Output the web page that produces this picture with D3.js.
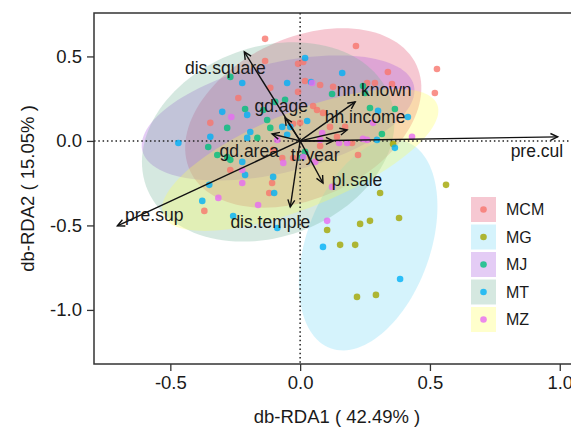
<!DOCTYPE html>
<html>
<head>
<meta charset="utf-8">
<script src="https://cdn.jsdelivr.net/npm/d3@7"></script>
<style>
  body { margin: 0; background: #fff; }
  text { font-family: "Liberation Sans", Arial, sans-serif; fill: #1a1a1a; }
</style>
</head>
<body>
<svg id="chart" width="571" height="429"></svg>
<script>
// groups and colours
const groups = ['MCM', 'MG', 'MJ', 'MT', 'MZ'];
const pointColors = ['#F8766D', '#A3A500', '#00BF7D', '#00B0F6', '#E76BF3'];
const ellipseColors = ['#E14869', '#73D7F5', '#A555DE', '#73B298', '#FFFF55'];

// site scores [rda1, rda2]
const ptsMCM = [[-0.135,0.604],[-0.135,0.473],[-0.008,0.456],[0.012,0.467],[0.019,0.355],[0.077,0.331],
  [-0.115,0.314],[-0.008,0.290],[-0.238,0.254],[-0.346,0.107],[0.215,0.562],[0.527,0.426],[0.519,0.284],
  [0.338,0.408],[0.258,0.343],[0.288,0.343],[0.354,0.337],[0.127,0.320],[0.000,0.107],[-0.027,0.101],
  [0.065,0.183],[0.088,0.166],[0.050,0.207],[0.115,0.083],[0.173,0.083],[0.142,0.024],[0.200,-0.012],
  [0.223,-0.083],[0.077,-0.030],[-0.104,-0.053],[-0.027,-0.101],[-0.069,-0.101],[-0.269,-0.172],
  [-0.108,-0.249],[-0.119,-0.308],[-0.369,-0.414]];
const ptsMG = [[0.562,-0.260],[0.308,-0.308],[0.104,-0.527],[0.231,-0.491],[0.269,-0.473],[0.381,-0.456],
  [0.154,-0.615],[0.212,-0.615],[0.219,-0.923],[0.292,-0.911],[0.358,-0.018]];
const ptsMJ = [[-0.269,0.379],[-0.212,0.189],[-0.281,0.077],[-0.142,0.183],[-0.127,0.124],[-0.096,0.231],
  [-0.058,0.243],[-0.115,0.077],[-0.165,0.018],[-0.354,-0.036],[-0.319,-0.083],[-0.281,-0.095],
  [-0.269,-0.112],[0.123,0.278],[0.242,0.325],[0.250,0.284],[0.269,0.195],[0.365,0.189],[0.315,0.041],
  [0.008,-0.095],[0.019,-0.065]];
const ptsMT = [[0.019,0.491],[-0.050,0.343],[-0.300,0.172],[-0.469,-0.012],[0.162,0.402],[0.042,0.349],
  [0.088,-0.627],[0.385,-0.817],[-0.223,0.343],[-0.204,0.154],[-0.346,0.024],[-0.069,0.083],[0.027,0.118],
  [-0.038,0.083],[-0.204,0.018],[-0.223,-0.124],[-0.212,-0.201],[-0.104,-0.213],[-0.350,-0.260],
  [-0.100,-0.308],[-0.377,-0.355],[-0.258,-0.444],[-0.088,-0.515],[0.300,0.178],[0.415,0.142],
  [0.296,0.006],[0.365,-0.041],[-0.192,0.053],[-0.050,0.036]];
const ptsMZ = [[0.046,0.343],[-0.265,0.142],[-0.088,0.006],[-0.065,-0.130],[0.012,-0.095],[-0.223,-0.172],
  [-0.223,-0.249],[-0.315,-0.337],[-0.162,-0.379],[0.104,-0.473],[0.123,-0.272],[0.058,-0.124],
  [0.281,0.107],[0.085,0.047],[0.150,-0.012],[0.242,0.012],[0.258,0.006],[0.431,0.024],[0.077,0.006],
  [0.181,-0.012]];
const sitePoints = [ptsMCM, ptsMG, ptsMJ, ptsMT, ptsMZ];

// ellipses: centre and two conjugate semi-axes, in axis units
const ellCentre = [[0.012,0.136],[0.262,-0.615],[-0.085,0.136],[-0.123,-0.006],[0.0,-0.112]];
const ellAxisU = [[0.436,0.313],[0.145,0.612],[0.523,0.193],[0.470,0.263],[0.528,0.328]];
const ellAxisV = [[0.130,-0.429],[0.224,-0.125],[0.049,-0.316],[0.125,-0.528],[0.069,-0.263]];

// environmental vectors
const envNames = ['pre.cul','pre.sup','dis.square','gd.age','gd.area','tr.year','nn.known','hh.income','pl.sale','dis.temple'];
const envTips = [[0.992,0.024],[-0.704,-0.503],[-0.215,0.527],[-0.058,0.136],[-0.108,0.041],[0.127,0.0],
  [0.212,0.231],[0.181,0.065],[0.088,-0.249],[-0.038,-0.391]];
const envLabelPos = [[0.912,-0.060],[-0.562,-0.438],[-0.288,0.432],[-0.073,0.207],[-0.196,-0.059],[0.058,-0.083],
  [0.285,0.302],[0.250,0.140],[0.219,-0.231],[-0.115,-0.479]];

const xTicks = [-0.5, 0.0, 0.5, 1.0];
const yTicks = [0.5, 0.0, -0.5, -1.0];
const xTitle = 'db-RDA1 ( 42.49% )';
const yTitle = 'db-RDA2 ( 15.05% )';

const svg = d3.select('#chart');
const pLeft = 94, pRight = 580, pTop = 13, pBottom = 364;

const x = d3.scaleLinear().domain([-0.794, 1.078]).range([pLeft, pRight]);
const y = d3.scaleLinear().domain([-1.32, 0.757]).range([pBottom, pTop]);

svg.append('clipPath').attr('id', 'clip')
  .append('rect').attr('x', pLeft).attr('y', pTop).attr('width', pRight - pLeft).attr('height', pBottom - pTop);

const plot = svg.append('g').attr('clip-path', 'url(#clip)');

// ellipses
const ts = d3.range(0, 2 * Math.PI + 0.01, Math.PI / 60);
groups.forEach((g, i) => {
  const c = ellCentre[i], u = ellAxisU[i], v = ellAxisV[i];
  const pts = ts.map(t => [
    x(c[0] + Math.cos(t) * u[0] + Math.sin(t) * v[0]),
    y(c[1] + Math.cos(t) * u[1] + Math.sin(t) * v[1])
  ]);
  plot.append('path')
    .attr('d', d3.line()(pts) + 'Z')
    .attr('fill', ellipseColors[i])
    .attr('fill-opacity', 0.3)
    .attr('stroke', 'none');
});

// reference lines through the origin
plot.append('line')
  .attr('x1', pLeft).attr('x2', pRight).attr('y1', y(0)).attr('y2', y(0))
  .attr('stroke', '#222').attr('stroke-width', 1.5).attr('stroke-dasharray', '1.5,2.8');
plot.append('line')
  .attr('x1', x(0)).attr('x2', x(0)).attr('y1', pTop).attr('y2', pBottom)
  .attr('stroke', '#222').attr('stroke-width', 1.5).attr('stroke-dasharray', '1.5,2.8');

// points
groups.forEach((g, i) => {
  plot.append('g').selectAll('circle')
    .data(sitePoints[i])
    .enter().append('circle')
    .attr('cx', d => x(d[0]))
    .attr('cy', d => y(d[1]))
    .attr('r', 3.3)
    .attr('fill', pointColors[i])
    .attr('fill-opacity', 0.8);
});

// arrows
const arrowG = plot.append('g').attr('stroke', '#111').attr('stroke-width', 1.4).attr('fill', 'none');
envTips.forEach(tip => {
  const x0 = x(0), y0 = y(0), x1 = x(tip[0]), y1 = y(tip[1]);
  const ang = Math.atan2(y1 - y0, x1 - x0);
  const hl = 8, ha = 0.45;
  arrowG.append('line').attr('x1', x0).attr('y1', y0).attr('x2', x1).attr('y2', y1);
  arrowG.append('path')
    .attr('d', `M${x1 - hl * Math.cos(ang - ha)},${y1 - hl * Math.sin(ang - ha)}L${x1},${y1}L${x1 - hl * Math.cos(ang + ha)},${y1 - hl * Math.sin(ang + ha)}`);
});

// arrow labels
plot.append('g').selectAll('text')
  .data(envNames)
  .enter().append('text')
  .attr('x', (d, i) => x(envLabelPos[i][0]))
  .attr('y', (d, i) => y(envLabelPos[i][1]))
  .attr('dy', '0.35em')
  .attr('text-anchor', 'middle')
  .style('font-size', '17.5px')
  .text(d => d);

// frame
svg.append('rect')
  .attr('x', pLeft).attr('y', pTop).attr('width', pRight - pLeft).attr('height', pBottom - pTop)
  .attr('fill', 'none').attr('stroke', '#333').attr('stroke-width', 1.5);

// axes
const xAxis = svg.append('g').attr('transform', `translate(0,${pBottom})`)
  .call(d3.axisBottom(x).tickValues(xTicks).tickFormat(d3.format('.1f')).tickSize(7).tickPadding(5));
const yAxis = svg.append('g').attr('transform', `translate(${pLeft},0)`)
  .call(d3.axisLeft(y).tickValues(yTicks).tickFormat(d3.format('.1f')).tickSize(7).tickPadding(5));
[xAxis, yAxis].forEach(a => {
  a.select('.domain').remove();
  a.selectAll('line').attr('stroke', '#333').attr('stroke-width', 1.3);
  a.selectAll('text').style('font-size', '18.5px').attr('fill', '#1a1a1a')
    .style('font-family', '"Liberation Sans", Arial, sans-serif');
});
xAxis.selectAll('text').text(d => d3.format('.1f')(d).replace('−', '-'));
yAxis.selectAll('text').text(d => d3.format('.1f')(d).replace('−', '-'));

svg.append('text')
  .attr('x', (pLeft + pRight) / 2).attr('y', 423)
  .attr('text-anchor', 'middle')
  .style('font-size', '18.5px')
  .text(xTitle);
svg.append('text')
  .attr('transform', `translate(34,${(pTop + pBottom) / 2}) rotate(-90)`)
  .attr('text-anchor', 'middle')
  .style('font-size', '18.5px')
  .text(yTitle);

// legend
const legend = svg.append('g').attr('transform', 'translate(471,197)');
groups.forEach((g, i) => {
  const row = legend.append('g').attr('transform', `translate(0,${i * 27.5})`);
  row.append('rect').attr('width', 25).attr('height', 25)
    .attr('fill', ellipseColors[i]).attr('fill-opacity', 0.3);
  row.append('circle').attr('cx', 12.5).attr('cy', 12.5).attr('r', 3.3)
    .attr('fill', pointColors[i]).attr('fill-opacity', 0.8);
  row.append('text').attr('x', 35).attr('y', 12.5).attr('dy', '0.35em')
    .style('font-size', '16px').text(g);
});
</script>
</body>
</html>
